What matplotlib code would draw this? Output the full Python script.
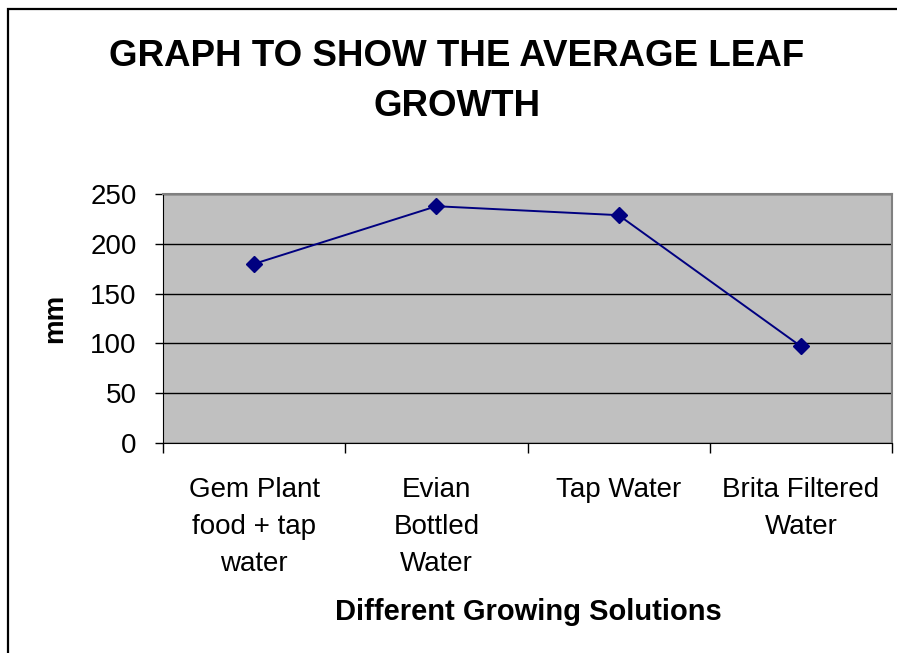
import matplotlib.pyplot as plt
from matplotlib import font_manager
from matplotlib.patches import Rectangle

# data
solutions = ["Gem Plant\nfood + tap\nwater", "Evian\nBottled\nWater", "Tap Water", "Brita Filtered\nWater"]
leaf_growth = [180, 238, 229, 97]
y_ticks = [0, 50, 100, 150, 200, 250]

plt.rcParams["font.family"] = ["Liberation Sans", "DejaVu Sans"]

# the title in the original is a tall, narrow bold face
names = {f.name for f in font_manager.fontManager.ttflist}
if "Liberation Sans Narrow" in names:
    title_family, title_size = ["Liberation Sans Narrow", "Liberation Sans"], 31
else:
    title_family, title_size = ["Liberation Sans", "DejaVu Sans"], 26.5

fig = plt.figure(figsize=(8.97, 6.53), dpi=100)
W, H = 897, 653

# outer chart border (cropped on right/bottom in the original)
fig.patches.append(Rectangle((8 / W, -0.1), 1.2, (H - 9) / H + 0.1, transform=fig.transFigure,
                             fill=False, edgecolor="black", linewidth=1.6))

ax = fig.add_axes([163 / W, (H - 442.7) / H, (892 - 163) / W, (442.7 - 194.3) / H])
ax.set_facecolor("#C0C0C0")

x = list(range(len(solutions)))
ax.plot(x, leaf_growth, color="#000080", linewidth=1.4, marker="D", markersize=8)

ax.set_xlim(-0.5, len(solutions) - 0.5)
ax.set_ylim(0, 250)
ax.set_yticks(y_ticks)
ax.yaxis.grid(True, color="black", linewidth=1.0)
ax.set_axisbelow(True)

ax.set_xticks(x)
ax.set_xticklabels(solutions, fontsize=20, linespacing=1.55, va="top")
ax.tick_params(axis="x", which="major", length=0, pad=25)
ax.set_xticks([i - 0.5 for i in range(len(solutions) + 1)], minor=True)
ax.tick_params(axis="x", which="minor", length=7, width=1, color="black")
ax.tick_params(axis="y", labelsize=20, length=6, width=1, pad=13)

for side in ["top", "right"]:
    ax.spines[side].set_color("#808080")
    ax.spines[side].set_linewidth(1.5)
ax.spines["left"].set_color("black")
ax.spines["bottom"].set_color("black")

fig.text(457 / W, 1 - 56 / H, "GRAPH TO SHOW THE AVERAGE LEAF", ha="center", va="center",
         fontsize=title_size, fontweight="bold", family=title_family)
fig.text(457 / W, 1 - 106 / H, "GROWTH", ha="center", va="center",
         fontsize=title_size, fontweight="bold", family=title_family)
fig.text(528 / W, 1 - 612 / H, "Different Growing Solutions", ha="center", va="center",
         fontsize=21, fontweight="bold")
fig.text(55 / W, 1 - 318 / H, "mm", ha="center", va="center", rotation=90,
         fontsize=20, fontweight="bold")

fig.savefig("out.png", dpi=100)
